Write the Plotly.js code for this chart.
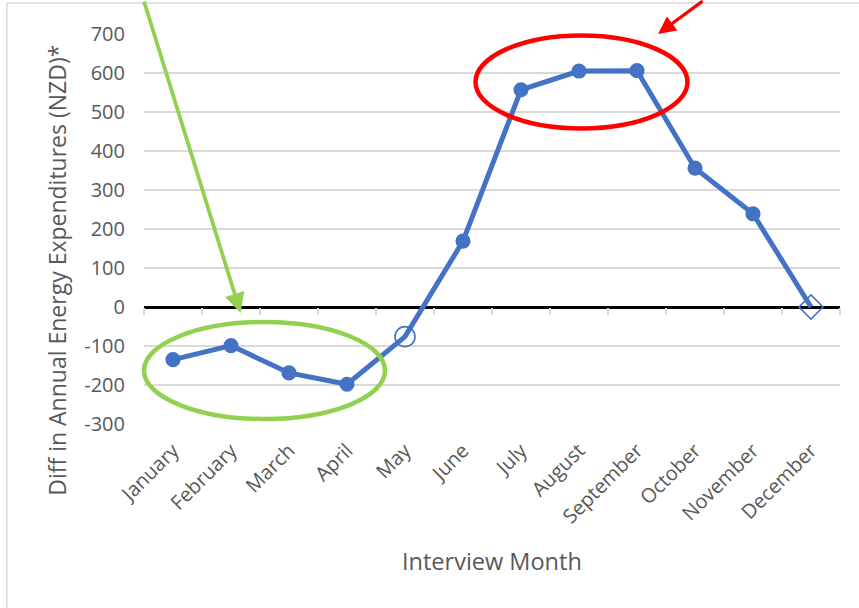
<!DOCTYPE html>
<html>
<head>
<meta charset="utf-8">
<script src="https://cdn.plot.ly/plotly-3.0.1.min.js"></script>
<style>html,body{margin:0;padding:0;background:#fff;}#chart{width:859px;height:608px;}</style>
</head>
<body>
<div id="chart"></div>
<script>
// ---- data ----
const months = ["January","February","March","April","May","June","July","August","September","October","November","December"];
const diffValues = [-135, -99, -169, -198, -76, 169, 557, 605, 606, 356, 239, 0];
const yTickVals = [-300, -200, -100, 0, 100, 200, 300, 400, 500, 600, 700];
const yTickText = ["-300", "-200", "-100", "0", "100", "200", "300", "400", "500", "600", "700"];
const yTitle = "Diff in Annual Energy Expenditures (NZD)*";
const xTitle = "Interview Month";

const blue = "#4472C4";
const grey = "#595959";
const FONT = "Open Sans, sans-serif";

// marker styling per point (May open circle, December open diamond)
const markerSymbols = months.map((m, i) => i === 4 ? "circle-open" : (i === 11 ? "diamond-open" : "circle"));
const markerSizes = months.map((m, i) => i === 4 ? 20 : (i === 11 ? 18.5 : 13.5));

const traces = [
  {
    x: months, y: diffValues, type: "scatter", mode: "lines+markers",
    line: {color: blue, width: 5},
    marker: {color: blue, opacity: 1, size: markerSizes, symbol: markerSymbols, line: {color: blue, width: 1.6}},
    hoverinfo: "skip", showlegend: false, cliponaxis: false
  },
  {
    // carrier trace for the category tick marks on the zero line
    x: months, y: diffValues, xaxis: "x2", type: "scatter", mode: "none",
    hoverinfo: "skip", showlegend: false
  }
];

const yMin = yTickVals[0], yMax = yTickVals[yTickVals.length - 1];
const zeroFrac = (0 - yMin) / (yMax - yMin);

const layout = {
  width: 859, height: 608,
  margin: {l: 144, r: 19, t: 34, b: 184, pad: 0},
  paper_bgcolor: "#ffffff", plot_bgcolor: "#ffffff",
  font: {family: FONT, color: grey, size: 20},
  xaxis: {
    type: "category", range: [-0.5, 11.5],
    showgrid: false, zeroline: false, showline: false,
    ticks: "", tickangle: -45, ticklabelstandoff: 10,
    tickfont: {family: FONT, size: 20, color: grey},
    fixedrange: true
  },
  xaxis2: {
    type: "category", overlaying: "x", anchor: "free", position: zeroFrac, side: "bottom",
    range: [-0.5, 11.5], showgrid: false, zeroline: false, showline: false,
    ticks: "outside", tickson: "boundaries", ticklen: 7, tickwidth: 1.5, tickcolor: "#D9D9D9",
    showticklabels: false
  },
  yaxis: {
    range: [yMin, yMax], tickvals: yTickVals, ticktext: yTickText,
    showgrid: true, gridcolor: "#D9D9D9", gridwidth: 1.5,
    zeroline: true, zerolinecolor: "#000000", zerolinewidth: 3,
    showline: false, ticks: "", ticklabelstandoff: 18,
    tickfont: {family: FONT, size: 20, color: grey},
    fixedrange: true
  },
  shapes: [
    // chart frame (partially cropped in the reference)
    {type: "line", xref: "paper", yref: "paper", x0: -0.197, x1: 1.1, y0: 1.0795, y1: 1.0795, line: {color: "#D9D9D9", width: 1.5}},
    {type: "line", xref: "paper", yref: "paper", x0: -0.197, x1: -0.197, y0: 1.0795, y1: -0.6, line: {color: "#D9D9D9", width: 1.5}},
    // green ellipse (Jan–Apr)
    {type: "circle", xref: "paper", yref: "paper", x0: 0.0, x1: 0.3463, y0: 0.0128, y1: 0.2615, line: {color: "#92D050", width: 4.5}, layer: "above"},
    // red ellipse (Jul–Sep)
    {type: "circle", xref: "paper", yref: "paper", x0: 0.4763, x1: 0.7809, y0: 0.7577, y1: 0.9962, line: {color: "#FF0000", width: 4.5}, layer: "above"}
  ],
  annotations: [
    {text: yTitle, xref: "paper", yref: "paper", x: -0.125, y: 0.3928, xanchor: "center", yanchor: "middle",
     textangle: -90, showarrow: false, font: {family: FONT, size: 23, color: grey}},
    {text: xTitle, xref: "paper", yref: "paper", x: 0.5, y: -0.3513, xanchor: "center", yanchor: "middle",
     showarrow: false, font: {family: FONT, size: 23.5, color: grey}},
    // green arrow
    {text: "", xref: "paper", yref: "paper", x: 0.1388, y: 0.2846, showarrow: true,
     ax: -97, ay: -323, arrowhead: 2, arrowsize: 1.05, arrowwidth: 3.8, arrowcolor: "#92D050", standoff: 0},
    // red arrow
    {text: "", xref: "paper", yref: "paper", x: 0.7385, y: 1.0, showarrow: true,
     ax: 46, ay: -42, arrowhead: 2, arrowsize: 1.1, arrowwidth: 3.2, arrowcolor: "#FF0000", standoff: 0}
  ]
};

Plotly.newPlot("chart", traces, layout, {displayModeBar: false, staticPlot: true});
</script>
</body>
</html>
